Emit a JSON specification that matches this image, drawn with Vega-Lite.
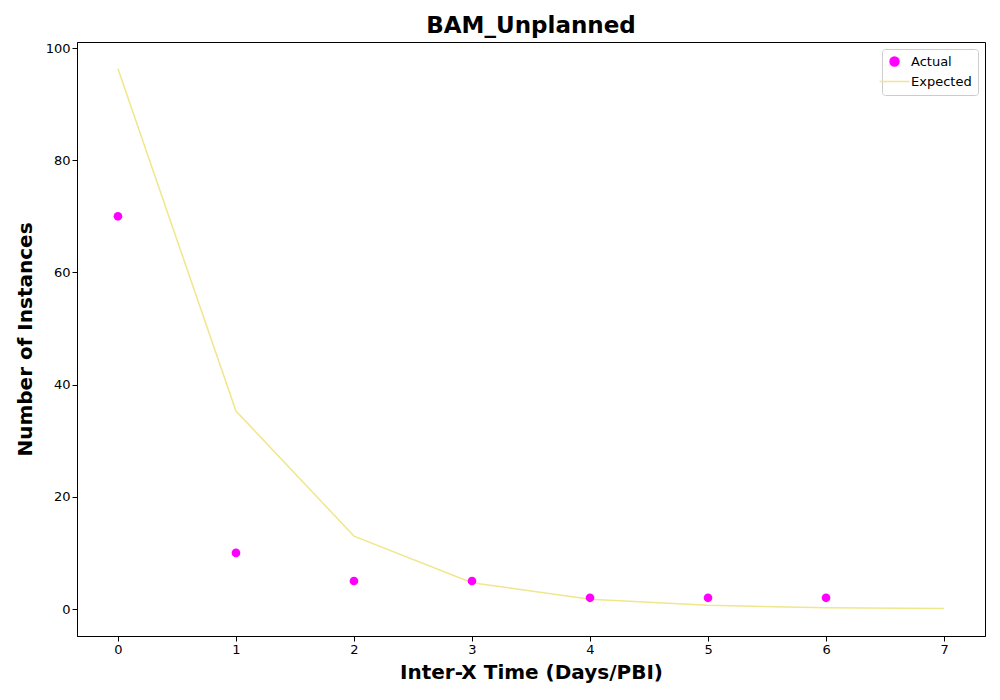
{
  "$schema": "https://vega.github.io/schema/vega-lite/v6.json",
  "autosize": "none",
  "width": 908,
  "height": 594,
  "padding": {"left": 77, "top": 42, "right": 15, "bottom": 64},
  "background": "white",
  "title": {"text": "BAM_Unplanned", "fontSize": 23, "fontWeight": "bold", "font": "DejaVu Sans", "color": "black", "offset": 4},
  "config": {
    "font": "DejaVu Sans",
    "view": {"stroke": "black", "strokeWidth": 1},
    "axis": {"grid": false, "domainColor": "black", "tickColor": "black", "labelColor": "black", "labelFontSize": 13, "titleFontSize": 20, "titleFontWeight": "bold", "titleColor": "black", "tickSize": 5}
  },
  "datasets": {
    "actual": [
      {"x": 0, "y": 70, "series": "Actual"},
      {"x": 1, "y": 10, "series": "Actual"},
      {"x": 2, "y": 5, "series": "Actual"},
      {"x": 3, "y": 5, "series": "Actual"},
      {"x": 4, "y": 2, "series": "Actual"},
      {"x": 5, "y": 2, "series": "Actual"},
      {"x": 6, "y": 2, "series": "Actual"}
    ],
    "expected": [
      {"x": 0, "y": 96.3, "series": "Expected"},
      {"x": 1, "y": 35.3, "series": "Expected"},
      {"x": 2, "y": 13.0, "series": "Expected"},
      {"x": 3, "y": 4.7, "series": "Expected"},
      {"x": 4, "y": 1.75, "series": "Expected"},
      {"x": 5, "y": 0.65, "series": "Expected"},
      {"x": 6, "y": 0.24, "series": "Expected"},
      {"x": 7, "y": 0.09, "series": "Expected"}
    ]
  },
  "encoding": {
    "x": {"field": "x", "type": "quantitative", "scale": {"domain": [-0.347, 7.347], "nice": false, "zero": false}, "axis": {"values": [0,1,2,3,4,5,6,7], "title": "Inter-X Time (Days/PBI)", "titlePadding": 6}},
    "y": {"field": "y", "type": "quantitative", "scale": {"domain": [-4.81, 101.07], "nice": false, "zero": false}, "axis": {"values": [0,20,40,60,80,100], "title": "Number of Instances", "titlePadding": 10}},
    "color": {"field": "series", "type": "nominal", "scale": {"domain": ["Actual", "Expected"], "range": ["#ff00ff", "#f0e68c"]},
      "legend": {"title": null, "orient": "top-right", "offset": 7, "labelFontSize": 13, "labelColor": "black", "strokeColor": "#cccccc", "padding": 6, "rowPadding": 6, "cornerRadius": 3, "fillColor": "white", "symbolSize": 80, "labelOffset": 10,
        "encode": {"symbols": {"update": {"shape": {"signal": "datum.value === 'Expected' ? 'stroke' : 'circle'"}, "strokeWidth": {"value": 1.5}, "size": {"signal": "datum.value === 'Expected' ? 900 : 80"}}}}}}
  },
  "layer": [
    {"data": {"name": "expected"}, "mark": {"type": "line", "strokeWidth": 1.5}},
    {"data": {"name": "actual"}, "mark": {"type": "circle", "size": 75, "opacity": 1}}
  ]
}
